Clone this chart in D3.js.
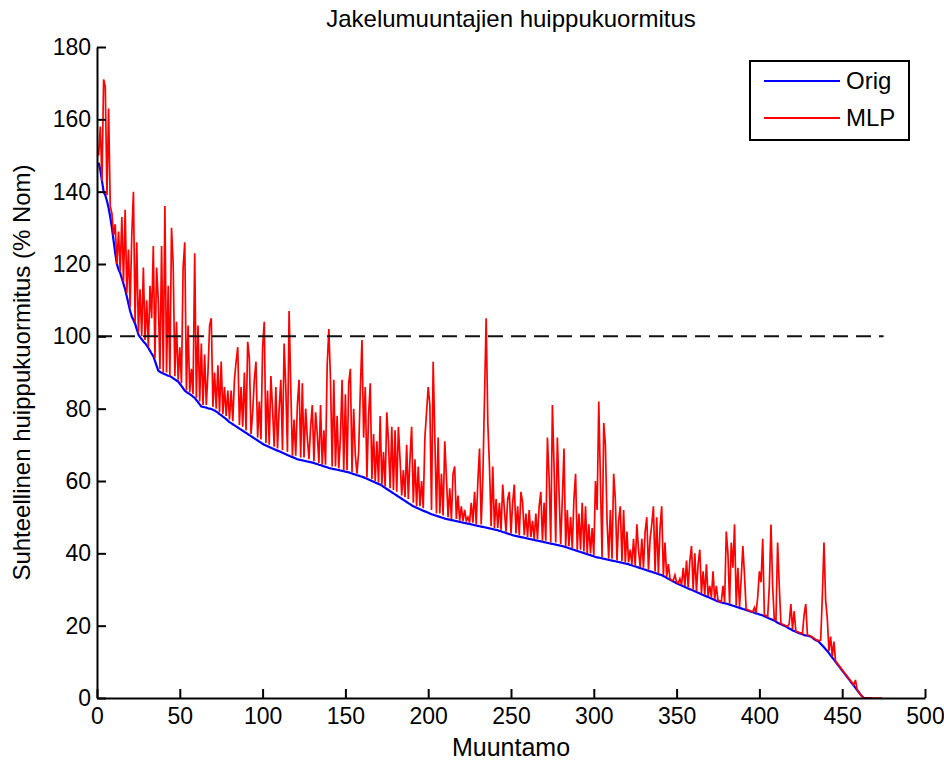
<!DOCTYPE html>
<html>
<head>
<meta charset="utf-8">
<script src="https://cdn.jsdelivr.net/npm/d3@7"></script>
<style>
  html, body { margin: 0; padding: 0; background: #ffffff; }
  svg { display: block; }
  text { font-family: "Liberation Sans", Arial, sans-serif; fill: #000; }
</style>
</head>
<body>
<svg id="chart" width="944" height="763"></svg>
<script>
// ---------------- DATA ----------------
const title = "Jakelumuuntajien huippukuormitus";
const xLabel = "Muuntamo";
const yLabel = "Suhteellinen huippukuormitus (% Nom)";
const seriesNames = ["Orig", "MLP"];
const xTicks = [0, 50, 100, 150, 200, 250, 300, 350, 400, 450, 500];
const yTicks = [0, 20, 40, 60, 80, 100, 120, 140, 160, 180];
const limitLevel = 100;
const limitExtent = [0, 475];

// Original peak load, sorted (index 0..467)
const orig = [
148,146,143,140,139,137.5,135.5,133,130,126.5,
123,120,118.5,117.5,116,114.5,113,111,109,107,
105.5,104.5,103.5,102,100.5,99.8,99.2,98.6,98.1,97.5,
96.8,96,95.2,94.5,93.2,91.8,90.5,90.2,89.9,89.7,
89.5,89.3,89.1,89,88.7,88.4,88.1,87.8,87.5,86.9,
86.3,85.6,85,84.6,84.3,84,83.7,83.3,83,82.4,
81.8,81.2,80.6,80.5,80.4,80.3,80.1,80,79.9,79.7,
79.5,79.2,78.9,78.5,78.2,77.8,77.5,77.1,76.7,76.3,
76,75.7,75.4,75.1,74.8,74.5,74.2,73.9,73.6,73.3,
73,72.7,72.4,72.1,71.8,71.5,71.2,70.9,70.6,70.3,
70,69.8,69.6,69.4,69.2,69,68.8,68.6,68.4,68.2,
68,67.8,67.6,67.4,67.2,67,66.8,66.6,66.4,66.2,
66,65.9,65.8,65.7,65.6,65.5,65.4,65.3,65.2,65.1,
65,64.8,64.7,64.5,64.4,64.2,64.1,63.9,63.8,63.6,
63.5,63.4,63.3,63.2,63.1,63,62.9,62.8,62.7,62.6,
62.5,62.4,62.2,62.1,61.9,61.8,61.6,61.5,61.3,61.2,
61,60.8,60.6,60.4,60.2,60,59.8,59.6,59.4,59.2,
59,58.7,58.4,58.1,57.8,57.5,57.2,56.9,56.6,56.3,
56,55.7,55.4,55.1,54.8,54.5,54.2,53.9,53.6,53.3,
53,52.8,52.6,52.4,52.2,52,51.8,51.6,51.4,51.2,
51,50.8,50.7,50.5,50.4,50.2,50.1,49.9,49.8,49.6,
49.5,49.4,49.3,49.2,49.1,49,48.9,48.8,48.7,48.6,
48.5,48.4,48.3,48.2,48.1,48,47.9,47.8,47.7,47.6,
47.5,47.4,47.3,47.2,47.1,47,46.9,46.8,46.7,46.6,
46.5,46.4,46.2,46.1,45.9,45.8,45.6,45.5,45.3,45.2,
45,44.9,44.8,44.7,44.6,44.5,44.4,44.3,44.2,44.1,
44,43.9,43.8,43.7,43.6,43.5,43.4,43.3,43.2,43.1,
43,42.9,42.8,42.7,42.6,42.5,42.4,42.3,42.2,42.1,
42,41.9,41.7,41.6,41.4,41.3,41.1,41,40.8,40.7,
40.5,40.4,40.2,40.1,39.9,39.8,39.6,39.5,39.3,39.2,
39,38.9,38.8,38.7,38.6,38.5,38.4,38.3,38.2,38.1,
38,37.9,37.8,37.7,37.6,37.5,37.4,37.3,37.2,37.1,
37,36.8,36.7,36.5,36.4,36.2,36.1,35.9,35.8,35.6,
35.5,35.3,35.2,35,34.9,34.7,34.6,34.4,34.3,34.1,
34,33.7,33.5,33.2,33,32.7,32.5,32.2,32,31.7,
31.5,31.3,31.1,30.9,30.7,30.5,30.3,30.1,29.9,29.7,
29.5,29.3,29.1,28.9,28.7,28.5,28.3,28.1,27.9,27.7,
27.5,27.3,27.1,26.9,26.7,26.6,26.4,26.3,26.2,26.1,
26,25.8,25.7,25.5,25.4,25.2,25.1,24.9,24.8,24.6,
24.5,24.3,24.2,24,23.9,23.7,23.6,23.4,23.3,23.1,
23,22.8,22.6,22.4,22.2,22,21.8,21.6,21.4,21.1,
20.8,20.6,20.4,20.2,20,19.8,19.5,19.2,19,18.7,
18.5,18.3,18.1,17.9,17.8,17.6,17.4,17.3,17.2,17.1,
17,16.7,16.3,16,15.8,15.5,15,14.5,14,13.5,
13,12.4,11.8,11.2,10.6,10,9.4,8.8,8.2,7.6,
7,6.4,5.8,5.2,4.6,4,3.4,2.8,2.2,1.6,
1,0.5,0,0,0,0,0,0
];

// MLP estimate of peak load (index 0..473)
const mlp = [
150,158,143,171,169,139,163,136,134,128,
131,120,129,118,133,115,135,112,124,108,
128,140,104,126,101,113,100,119,99,110,
97,114,105,125,94,119,110,91,125,90,
136,90,114,89,130,120,89,104,88,97,
87,119,126,85,103,84.5,91,84,123,83,
103,82,98,81,95,81,90,103,105,80.5,
90,80,92,79,93,78.5,86,78,85,77,
85,76.5,88,93,97,75.5,86,75,90,74,
98.5,94,73,79,88,93,72,82,71.5,97,
104,70.5,85,70,89,80,69.5,86,69,80,
88,68.5,98,86,68,107,86,67,77,67,
81,88,66.5,87,66.5,80,72,66,75,81,
65.5,79,73,65,81,64.5,74,64.5,92,102,
88,64,88,64,78,63.5,72,88,63,84,
63,87,91,62.5,80,67,62,68,85,99,
72,86,61,78,87,60.5,73,60,71,59.5,
78,59,68,58.5,79,71,58,75,57.5,74,
57,75,66,56,63,55.5,70,55,66,75,
54,66,53,64,53,60,52.5,72,79,86,
81,52,93,72,51,72,51,62,50.5,71,
61,50,58,49.5,62,64,49.5,56,49,53,
49,52,49,50,48.5,54,48.5,57,48,60,
69,48,61,83,105,76,64,47.5,64,47,
55,47,54,46.5,59,52,46,55,57,45.5,
54,59,45.5,53,45,57,54,45,51,44.5,
52,44.5,49,44,51,44,53,57,43.5,54,
43.5,72,61,43,81,64,43,72,57,42.5,
55,69,42,52,42,50,41.5,55,62,41,
51,41,54,40.5,53,40,48,40,47,39.5,
60,52,82,60,39,76,70,49,38.5,52,
38.5,62,55,38,49,53,37.8,52,37.5,46,
37.5,41,37,44,36.5,48,41,36.2,44,36,
46,50,35.5,44,48,53,35,50,34.5,47,
53,34,43,33.5,37,33,32.5,32.5,34,32,
31.8,33,31.3,36,31,38,30.5,38,42,30,
40,29.5,37,41,29,35,28.5,37,28.2,31,
27.8,35,27.3,31,27,26.8,26.6,31,26.5,46,
40,26,43,36,48,25.5,36,25.2,33,42,
34,24.5,24.4,24.2,24,23.8,25,23.6,28,35,
32,44,23,22.8,22.5,31,48,31,21.7,21.5,
43,31,20.6,20.4,20.2,20,19.7,20.5,26,19,
24,18.5,18.3,18.1,18,17.8,23,26,17.4,17.3,
17.1,16.8,16.5,16.2,16,15.8,16,28,43,27,
22,13,17,11.5,15.6,10.2,9.6,9,8.4,7.8,
7.2,6.6,6,5.4,4.8,4.3,3.6,5,2.4,1.7,
1,0.5,0,0,0,0,0,0,0,0,
0,0,0,0
];

// ---------------- CHART ----------------
const svg = d3.select("#chart");
const margin = { left: 97, right: 19, top: 47, bottom: 65 };
const W = 944, H = 763;

const x = d3.scaleLinear().domain([0, 500]).range([margin.left, W - margin.right]);
const y = d3.scaleLinear().domain([0, 180]).range([H - margin.bottom, margin.top]);

const line = d3.line()
  .x((d, i) => x(i + 1))
  .y(d => y(d));

// Orig (blue)
svg.append("path")
  .datum(orig)
  .attr("fill", "none")
  .attr("stroke", "#0000ff")
  .attr("stroke-width", 2.2)
  .attr("stroke-linejoin", "round")
  .attr("d", line);

// MLP (red)
svg.append("path")
  .datum(mlp)
  .attr("fill", "none")
  .attr("stroke", "#ff0000")
  .attr("stroke-width", 1.7)
  .attr("stroke-linejoin", "miter")
  .attr("d", line);

// dashed 100% level
svg.append("line")
  .attr("x1", x(limitExtent[0])).attr("x2", x(limitExtent[1]))
  .attr("y1", y(limitLevel)).attr("y2", y(limitLevel))
  .attr("stroke", "#111")
  .attr("stroke-width", 2)
  .attr("stroke-dasharray", "15,8");

// Axes
const tickFont = 23;
const labelFont = 24;
const xAxis = d3.axisBottom(x).tickValues(xTicks).tickSizeInner(-9).tickSizeOuter(0).tickPadding(10);
const yAxis = d3.axisLeft(y).tickValues(yTicks).tickSizeInner(-9).tickSizeOuter(0).tickPadding(6);

const gx = svg.append("g").attr("transform", `translate(0,${y(0)})`).call(xAxis);
const gy = svg.append("g").attr("transform", `translate(${x(0)},0)`).call(yAxis);
[gx, gy].forEach(g => {
  g.select(".domain").attr("stroke", "#000").attr("stroke-width", 2);
  g.selectAll(".tick line").attr("stroke", "#000").attr("stroke-width", 2);
  g.selectAll(".tick text")
    .attr("font-family", "'Liberation Sans', Arial, sans-serif")
    .attr("font-size", tickFont)
    .attr("fill", "#000");
});
gx.selectAll(".tick text").attr("dy", "0.71em");

// Title
svg.append("text")
  .attr("x", (x(0) + x(500)) / 2)
  .attr("y", 27)
  .attr("text-anchor", "middle")
  .attr("font-size", labelFont)
  .text(title);

// X label
svg.append("text")
  .attr("x", (x(0) + x(500)) / 2)
  .attr("y", 756)
  .attr("text-anchor", "middle")
  .attr("font-size", 25)
  .text(xLabel);

// Y label
svg.append("text")
  .attr("transform", `translate(30,${(y(0) + y(180)) / 2}) rotate(-90)`)
  .attr("text-anchor", "middle")
  .attr("font-size", labelFont)
  .text(yLabel);

// Legend
const lg = svg.append("g");
lg.append("rect")
  .attr("x", 750).attr("y", 61).attr("width", 159).attr("height", 79)
  .attr("fill", "#fff").attr("stroke", "#000").attr("stroke-width", 2);
const colors = ["#0000ff", "#ff0000"];
seriesNames.forEach((name, i) => {
  const ly = 81 + i * 37;
  lg.append("line")
    .attr("x1", 764).attr("x2", 840)
    .attr("y1", ly).attr("y2", ly)
    .attr("stroke", colors[i]).attr("stroke-width", 2);
  lg.append("text")
    .attr("x", 846).attr("y", ly + 8)
    .attr("font-size", labelFont)
    .text(name);
});
</script>
</body>
</html>
